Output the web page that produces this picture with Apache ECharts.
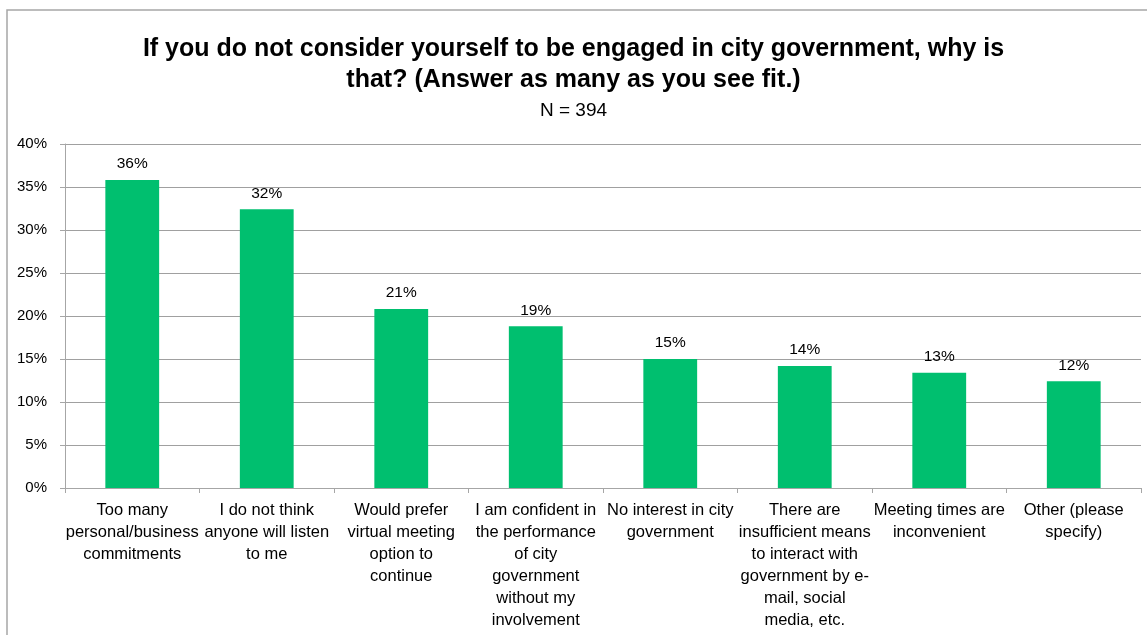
<!DOCTYPE html>
<html>
<head>
<meta charset="utf-8">
<script src="https://cdn.jsdelivr.net/npm/echarts@6/dist/echarts.min.js"></script>
<style>
  html, body { margin: 0; padding: 0; background: #ffffff; }
  #chart { width: 1147px; height: 635px; }
</style>
</head>
<body>
<div id="chart"></div>
<script>
// Survey responses: reasons for not engaging with city government (N = 394)
const categories = [
  'Too many\npersonal/business\ncommitments',
  'I do not think\nanyone will listen\nto me',
  'Would prefer\nvirtual meeting\noption to\ncontinue',
  'I am confident in\nthe performance\nof city\ngovernment\nwithout my\ninvolvement',
  'No interest in city\ngovernment',
  'There are\ninsufficient means\nto interact with\ngovernment by e-\nmail, social\nmedia, etc.',
  'Meeting times are\ninconvenient',
  'Other (please\nspecify)'
];
// Share of respondents, in percent
const shares = [35.8, 32.4, 20.8, 18.8, 15.0, 14.2, 13.4, 12.4];
const yTicks = [0, 5, 10, 15, 20, 25, 30, 35, 40];

const titleText = 'If you do not consider yourself to be engaged in city government, why is\nthat? (Answer as many as you see fit.)';
const subtitleText = 'N = 394';

const FONT = '"Liberation Sans", Arial, sans-serif';
const chart = echarts.init(document.getElementById('chart'), null, { renderer: 'canvas' });

chart.setOption({
  animation: false,
  backgroundColor: '#ffffff',
  graphic: [{
    type: 'rect',
    shape: { x: 7, y: 10, width: 1300, height: 800 },
    style: { fill: 'none', stroke: '#a6a6a6', lineWidth: 1.5 },
    silent: true
  }],
  title: {
    text: titleText,
    subtext: subtitleText,
    left: 'center',
    top: 29,
    itemGap: 4,
    textStyle: {
      fontFamily: FONT, fontWeight: 'bold', fontSize: 25,
      color: '#000000', lineHeight: 31
    },
    subtextStyle: {
      fontFamily: FONT, fontSize: 19, color: '#000000', lineHeight: 22
    }
  },
  // fixed plot rectangle; the long category labels may run to the page edge
  grid: { left: 65, right: 6, top: 144, bottom: 147, containLabel: false, outerBoundsMode: 'none' },
  xAxis: {
    type: 'category',
    data: categories,
    axisLine: { lineStyle: { color: '#a6a6a6', width: 1 } },
    axisTick: { show: true, alignWithLabel: false, length: 5, lineStyle: { color: '#a6a6a6' } },
    axisLabel: {
      interval: 0, margin: 11,
      fontFamily: FONT, fontSize: 16.5, color: '#000000', lineHeight: 22,
      align: 'center'
    }
  },
  yAxis: {
    type: 'value',
    min: yTicks[0],
    max: yTicks[yTicks.length - 1],
    interval: 5,
    axisLine: { show: true, lineStyle: { color: '#a6a6a6', width: 1 } },
    axisTick: { show: true, length: 5, lineStyle: { color: '#a6a6a6' } },
    splitLine: { show: true, lineStyle: { color: '#a0a0a0', width: 1 } },
    axisLabel: {
      margin: 18,
      fontFamily: FONT, fontSize: 15, color: '#000000',
      formatter: v => v + '%'
    }
  },
  series: [{
    type: 'bar',
    data: shares,
    barWidth: '40%',
    itemStyle: { color: '#00bf6f' },
    label: {
      show: true,
      position: 'top',
      distance: 8,
      fontFamily: FONT, fontSize: 15.5, color: '#000000',
      formatter: p => Math.round(p.value) + '%'
    }
  }]
});
</script>
</body>
</html>
